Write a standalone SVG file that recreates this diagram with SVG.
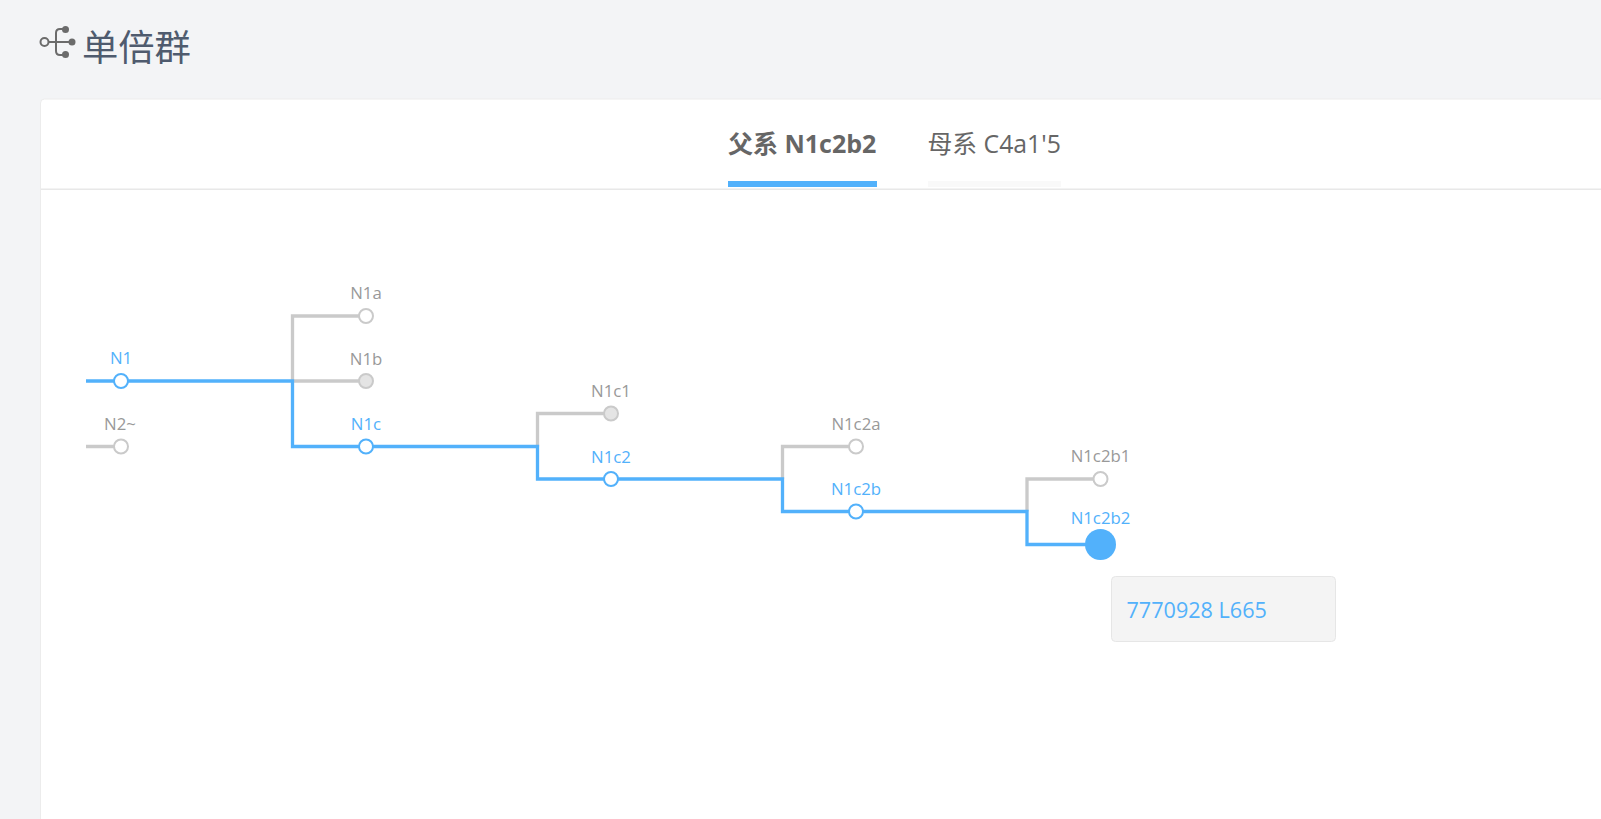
<svg xmlns="http://www.w3.org/2000/svg" width="1601" height="819" viewBox="0 0 1601 819">
<style>
.t{font-family:"Open Sans","Noto Sans","Noto Sans CJK SC",sans-serif}
.l{font-size:16.800px;text-anchor:middle}
.g{fill:#999}
.b{fill:#52b1fb}
.cg{fill:none;stroke:#cacaca;stroke-width:3.300}
.cb{fill:none;stroke:#52b1fb;stroke-width:3.300}
.ng{fill:#fff;stroke:#cacaca;stroke-width:2}
.nf{fill:#e4e4e4;stroke:#cacaca;stroke-width:2}
.nb{fill:#fff;stroke:#52b1fb;stroke-width:2}
</style>
<rect width="1601" height="819" fill="#f3f4f6"/>
<g id="title">
<g fill="none" stroke="#6b6b6b" stroke-width="2">
<circle cx="44.500" cy="42" r="4"/>
<path d="M49 42H70M65 29H60Q56 29 56 33V51Q56 55 60 55H65"/>
</g>
<g fill="#6b6b6b"><circle cx="65.500" cy="29.500" r="3.500"/><circle cx="72" cy="42" r="3.500"/><circle cx="65.500" cy="54.500" r="3.500"/></g>
<text class="t" x="82" y="61" font-size="36.300" fill="#4f5b6e">单倍群</text>
</g>
<rect x="40.500" y="99" width="1600" height="760" rx="4" fill="#fff" stroke="#ececec"/>
<rect x="41" y="188.500" width="1560" height="1.500" fill="#e8e8e8"/>
<g id="tabs">
<text class="t" x="728" y="153" font-size="25" font-weight="700" fill="#666">父系 N1c2b2</text>
<rect x="728" y="181" width="149" height="6" fill="#52b1fb"/>
<text class="t" x="927.500" y="153" font-size="24.800" fill="#666">母系 C4a1'5</text>
<rect x="928" y="181" width="133" height="6" fill="#f9f9f9"/>
</g>
<g id="connectors">
<path class="cg" d="M86 446.500H121M365 316H292.500V381H365M611 413.500H537.500V446.500M856 446.500H782.500V479M1100 479H1027V511.500"/>
<path class="cb" d="M86 381H292.500V446.500H537.500V479H782.500V511.500H1027V544.500H1100"/>
</g>
<g id="n1"><circle class="nb" cx="121" cy="381" r="7"/><text class="t l b" x="121" y="364">N1</text></g>
<g id="n2"><circle class="ng" cx="121" cy="446.500" r="7"/><text class="t l g" x="120" y="429.500">N2~</text></g>
<g id="n1a"><circle class="ng" cx="366" cy="316" r="7"/><text class="t l g" x="366" y="299">N1a</text></g>
<g id="n1b"><circle class="nf" cx="366" cy="381" r="7"/><text class="t l g" x="366" y="364.500">N1b</text></g>
<g id="n1c"><circle class="nb" cx="366" cy="446.500" r="7"/><text class="t l b" x="366" y="429.500">N1c</text></g>
<g id="n1c1"><circle class="nf" cx="611" cy="413.500" r="7"/><text class="t l g" x="611" y="396.500">N1c1</text></g>
<g id="n1c2"><circle class="nb" cx="611" cy="479" r="7"/><text class="t l b" x="611" y="462.500">N1c2</text></g>
<g id="n1c2a"><circle class="ng" cx="856" cy="446.500" r="7"/><text class="t l g" x="856" y="429.500">N1c2a</text></g>
<g id="n1c2b"><circle class="nb" cx="856" cy="511.500" r="7"/><text class="t l b" x="856" y="494.500">N1c2b</text></g>
<g id="n1c2b1"><circle class="ng" cx="1100.500" cy="479" r="7"/><text class="t l g" x="1100.500" y="462">N1c2b1</text></g>
<g id="n1c2b2"><circle cx="1100.500" cy="544.500" r="15.500" fill="#52b1fb"/><text class="t l b" x="1100.500" y="524">N1c2b2</text></g>
<g id="info"><rect x="1111.500" y="576.500" width="224" height="65" rx="4" fill="#f4f4f4" stroke="#e6e6e6"/>
<text class="t b" x="1126.500" y="617.500" font-size="21.600">7770928 L665</text></g>
</svg>
